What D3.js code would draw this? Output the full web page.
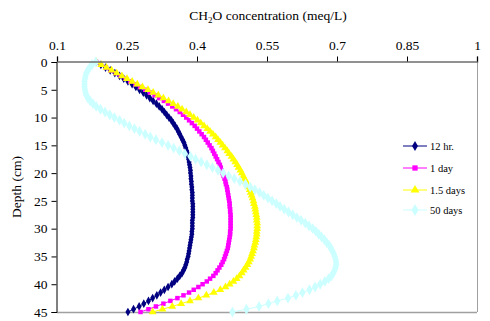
<!DOCTYPE html>
<html>
<head>
<meta charset="utf-8">
<script src="https://cdn.jsdelivr.net/npm/d3@7"></script>
<style>
  body { margin: 0; background: #fff; }
  text { font-family: "Liberation Serif", "Times New Roman", serif; }
</style>
</head>
<body>
<div id="container"></div>
<script>
/* CONSTANTS AND GLOBALS */
const width = 490,
  height = 321,
  margin = { top: 62, bottom: 9, left: 57, right: 13 };

/* DATA */
const depth = [0, 0.5, 1, 1.5, 2, 2.5, 3, 3.5, 4, 4.5, 5, 5.5, 6, 6.5, 7, 7.5, 8, 8.5, 9, 9.5,
  10, 10.5, 11, 11.5, 12, 12.5, 13, 13.5, 14, 14.5, 15, 15.5, 16, 16.5, 17, 17.5, 18, 18.5, 19, 19.5,
  20, 20.5, 21, 21.5, 22, 22.5, 23, 23.5, 24, 24.5, 25, 25.5, 26, 26.5, 27, 27.5, 28, 28.5, 29, 29.5,
  30, 30.5, 31, 31.5, 32, 32.5, 33, 33.5, 34, 34.5, 35, 35.5, 36, 36.5, 37, 37.5, 38, 38.5, 39, 39.5,
  40, 40.5, 41, 41.5, 42, 42.5, 43, 43.5, 44, 44.5, 45];

const hr12 = [.184, .194, .204, .214, .224, .234, .243, .252, .261, .269, .277, .285, .292, .299, .306, .313, .319, .325, .330, .335,
  .340, .345, .349, .353, .357, .360, .363, .366, .369, .372, .374, .376, .378, .380, .381, .382, .383, .384, .385, .386,
  .386, .387, .387, .388, .388, .389, .389, .390, .390, .390, .390, .391, .391, .391, .391, .391, .391, .390, .390, .390,
  .390, .389, .389, .388, .387, .386, .385, .384, .383, .382, .381, .379, .378, .376, .374, .371, .368, .363, .358, .352,
  .346, .338, .330, .322, .314, .305, .296, .286, .276, .264, .252];

const day1 = [.184, .194, .205, .215, .226, .236, .247, .257, .268, .278, .289, .299, .309, .319, .329, .338, .347, .355, .363, .370,
  .377, .383, .389, .395, .400, .405, .410, .415, .419, .423, .427, .431, .434, .437, .440, .443, .446, .449, .451, .453,
  .455, .457, .459, .461, .462, .464, .465, .466, .467, .468, .469, .470, .470, .471, .471, .472, .472, .472, .472, .472,
  .472, .471, .471, .470, .469, .468, .467, .466, .464, .462, .460, .458, .455, .452, .448, .444, .440, .435, .428, .421,
  .412, .403, .393, .383, .371, .358, .343, .328, .312, .296, .279];

const day15 = [.184, .195, .206, .217, .228, .239, .250, .261, .272, .283, .295, .306, .317, .328, .339, .349, .359, .368, .377, .385,
  .393, .401, .408, .415, .422, .428, .434, .440, .445, .450, .455, .460, .465, .469, .474, .478, .482, .486, .489, .493,
  .496, .499, .502, .505, .508, .510, .513, .515, .517, .519, .521, .522, .524, .525, .526, .527, .528, .528, .529, .529,
  .529, .528, .528, .527, .526, .525, .523, .522, .520, .518, .516, .514, .511, .508, .504, .500, .496, .491, .485, .478,
  .470, .461, .450, .436, .420, .403, .385, .366, .347, .326, .305];

const day50 = [.183, .175, .170, .166, .163, .161, .160, .159, .159, .159, .160, .161, .163, .166, .171, .177, .184, .193, .203, .213,
  .223, .234, .244, .255, .266, .277, .289, .300, .312, .325, .338, .350, .362, .374, .386, .397, .409, .421, .433, .445,
  .456, .468, .480, .492, .504, .514, .524, .534, .543, .552, .561, .570, .578, .587, .596, .605, .614, .623, .632, .640,
  .648, .655, .661, .667, .673, .678, .683, .687, .690, .693, .695, .697, .698, .698, .697, .695, .692, .688, .682, .674,
  .664, .653, .641, .626, .612, .595, .572, .553, .533, .506, .476];

const seriesNames = ["12 hr.", "1 day", "1.5 days", "50 days"];
const seriesColors = ["#000080", "#ff00ff", "#ffff00", "#ccffff"];
const xTicks = [0.1, 0.25, 0.4, 0.55, 0.7, 0.85, 1];
const yTicks = [0, 5, 10, 15, 20, 25, 30, 35, 40, 45];

const seriesValues = [hr12, day1, day15, day50];
const symbols = [d3.symbolDiamond, d3.symbolSquare, d3.symbolTriangle, d3.symbolDiamond];
const symSizes = [22, 20, 26, 34];

/* SCALES */
const xScale = d3.scaleLinear()
  .domain([0.1, 1])
  .range([margin.left, width - margin.right]);

const yScale = d3.scaleLinear()
  .domain([0, 45])
  .range([margin.top, height - margin.bottom]);

/* SVG */
const svg = d3.select("#container")
  .append("svg")
  .attr("width", width)
  .attr("height", height);

// plot frame (right and bottom, light grey)
svg.append("line")
  .attr("x1", xScale(1) + 0.5).attr("x2", xScale(1) + 0.5)
  .attr("y1", yScale(0)).attr("y2", yScale(45))
  .attr("stroke", "#a0a0a0");
svg.append("line")
  .attr("x1", xScale(0.1)).attr("x2", xScale(1))
  .attr("y1", yScale(45) + 0.5).attr("y2", yScale(45) + 0.5)
  .attr("stroke", "#a0a0a0").attr("stroke-width", 1.5);

// LINES AND MARKERS
const line = d3.line()
  .x(d => xScale(d.v))
  .y(d => yScale(d.d));

seriesValues.forEach((vals, i) => {
  const pts = vals.map((v, j) => ({ d: depth[j], v: v }));
  svg.append("path")
    .attr("d", line(pts))
    .attr("fill", "none")
    .attr("stroke", seriesColors[i])
    .attr("stroke-width", 1);
  svg.append("g")
    .selectAll("path")
    .data(pts)
    .join("path")
    .attr("transform", d => `translate(${xScale(d.v)},${yScale(d.d)})`)
    .attr("d", d3.symbol().type(symbols[i]).size(symSizes[i]))
    .attr("fill", seriesColors[i]);
});

// AXES
const xAxis = d3.axisTop(xScale)
  .tickValues(xTicks)
  .tickFormat(d => d)
  .tickSize(5)
  .tickPadding(7);

const gx = svg.append("g")
  .attr("transform", `translate(0,${margin.top - 0.5})`)
  .call(xAxis);
gx.select(".domain").attr("stroke", "#6e6e6e").attr("stroke-width", 1.5);
gx.selectAll(".tick line").attr("stroke", "#000");
gx.selectAll("text")
  .attr("font-size", 13.5)
  .attr("fill", "#000");

const yAxis = d3.axisLeft(yScale)
  .tickValues(yTicks)
  .tickSize(5)
  .tickPadding(4);

const gy = svg.append("g")
  .attr("transform", `translate(${margin.left - 0.5},0)`)
  .call(yAxis);
gy.select(".domain").attr("stroke", "#000");
gy.selectAll("text")
  .attr("font-size", 13.5)
  .attr("fill", "#000");

// TITLES
const title = svg.append("text")
  .attr("x", 268)
  .attr("y", 20)
  .attr("text-anchor", "middle")
  .attr("font-size", 13.5);
title.append("tspan").text("CH");
title.append("tspan").attr("font-size", 9).attr("dy", 3).text("2");
title.append("tspan").attr("dy", -3).text("O concentration (meq/L)");

svg.append("text")
  .attr("transform", "translate(21,187) rotate(-90)")
  .attr("text-anchor", "middle")
  .attr("font-size", 13.5)
  .text("Depth (cm)");

// LEGEND
const legend = svg.append("g")
  .selectAll("g")
  .data(seriesNames)
  .join("g")
  .attr("transform", (d, i) => `translate(403,${[146, 168, 190, 210][i]})`);

legend.append("line")
  .attr("x1", 0).attr("x2", 24)
  .attr("stroke", (d, i) => seriesColors[i]);
legend.append("path")
  .attr("transform", "translate(12,0)")
  .attr("d", (d, i) => d3.symbol().type(symbols[i]).size(symSizes[i] + 8)())
  .attr("fill", (d, i) => seriesColors[i]);
legend.append("text")
  .attr("x", 27)
  .attr("y", 0)
  .attr("dy", "0.35em")
  .attr("font-size", 10.5)
  .text(d => d);
</script>
</body>
</html>
